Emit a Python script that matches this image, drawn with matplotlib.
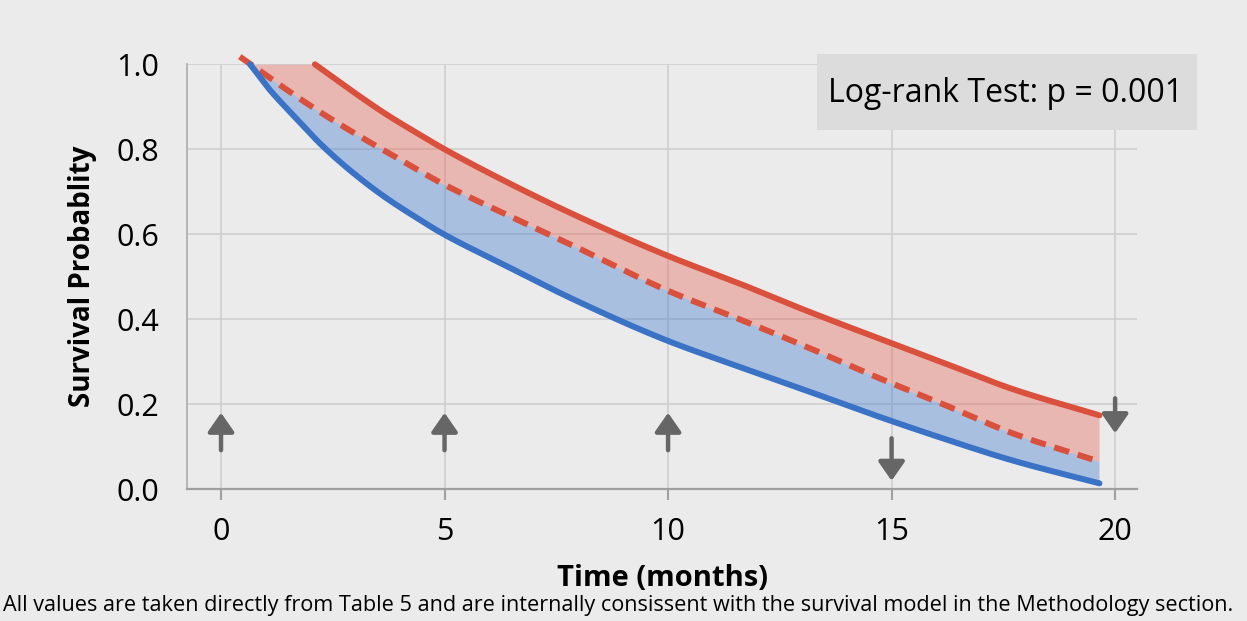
import numpy as np
import matplotlib
matplotlib.use("Agg")
import matplotlib.pyplot as plt
from matplotlib.patches import Rectangle

# ---- data ----
blue_t = [0.65, 1.09, 1.47, 1.84, 2.21, 2.96, 3.70, 4.45, 4.9, 6.39, 7.88, 10, 11.6,
          13.1, 14.74, 16.2, 17.7, 19.65]
blue_s = [1.0, 0.94, 0.896, 0.855, 0.814, 0.744, 0.685, 0.634, 0.605, 0.525, 0.447,
          0.349, 0.288, 0.232, 0.170, 0.118, 0.068, 0.014]
dash_t = [0.42, 1.32, 2.21, 3.11, 4.15, 4.9, 6.39, 7.88, 10, 11.6, 13.1, 14.8, 16.2,
          17.7, 19.62]
dash_s = [1.018, 0.951, 0.888, 0.83, 0.767, 0.722, 0.646, 0.573, 0.467, 0.40, 0.335,
          0.258, 0.198, 0.132, 0.066]
red_t = [2.1, 2.96, 3.70, 4.45, 4.9, 6.39, 7.88, 10, 11.6, 13.1, 14.74, 16.2, 17.7, 19.65]
red_s = [1.0, 0.935, 0.882, 0.834, 0.806, 0.723, 0.647, 0.549, 0.484, 0.420, 0.354,
         0.296, 0.236, 0.174]
up_arrow_t = [0, 5, 10]
up_arrow_from = [0.092, 0.092, 0.092]
up_arrow_to = [0.18, 0.18, 0.18]
down_arrow_t = [15, 20]
down_arrow_from = [0.12, 0.214]
down_arrow_to = [0.02, 0.132]
xticks = [0, 5, 10, 15, 20]
yticks = [0.0, 0.2, 0.4, 0.6, 0.8, 1.0]
stat_text = "Log-rank Test: p = 0.001"
footnote = ("All values are taken directly from Table 5 and are internally consissent "
            "with the survival model in the Methodology section.")

BG = "#ebebeb"
RED = "#d9503c"
BLUE = "#3a72c6"
FONT = "Open Sans"


def pchip(x, y, xn):
    """Monotone cubic curve through the read points (for smooth drawing only)."""
    x = np.asarray(x, float)
    y = np.asarray(y, float)
    h = np.diff(x)
    dl = np.diff(y) / h
    m = np.zeros_like(y)
    m[0], m[-1] = dl[0], dl[-1]
    for k in range(1, len(x) - 1):
        if dl[k - 1] * dl[k] <= 0:
            m[k] = 0.0
        else:
            w1 = 2 * h[k] + h[k - 1]
            w2 = h[k] + 2 * h[k - 1]
            m[k] = (w1 + w2) / (w1 / dl[k - 1] + w2 / dl[k])
    xn = np.asarray(xn, float)
    i = np.clip(np.searchsorted(x, xn) - 1, 0, len(x) - 2)
    t = (xn - x[i]) / h[i]
    h00 = 2 * t**3 - 3 * t**2 + 1
    h10 = t**3 - 2 * t**2 + t
    h01 = -2 * t**3 + 3 * t**2
    h11 = t**3 - t**2
    return h00 * y[i] + h10 * h[i] * m[i] + h01 * y[i + 1] + h11 * h[i] * m[i + 1]


plt.rcParams["font.family"] = [FONT, "DejaVu Sans"]

fig = plt.figure(figsize=(12.47, 6.21), dpi=100, facecolor=BG)
ax = fig.add_axes([0.150, 0.2121, 0.7618, 0.6844])
ax.set_facecolor(BG)
ax.set_xlim(-0.76, 20.49)
ax.set_ylim(0, 1.0)

ax.grid(True, color="#cfcfcf", linewidth=1.2)
ax.set_axisbelow(True)
for s in ["top", "right"]:
    ax.spines[s].set_visible(False)
ax.spines["left"].set_color("#b0b0b0")
ax.spines["bottom"].set_color("#a0a0a0")
ax.spines["left"].set_linewidth(1.3)
ax.spines["bottom"].set_linewidth(1.6)

ax.set_xticks(xticks)
ax.set_yticks(yticks)
ax.set_yticklabels([f"{v:.1f}" for v in yticks])
ax.tick_params(axis="x", length=8, width=1.5, color="#a0a0a0", labelsize=22, pad=12)
ax.tick_params(axis="y", length=0, labelsize=22, pad=20)

# smooth curves through the read points
bt = np.linspace(blue_t[0], blue_t[-1], 400)
dt = np.linspace(dash_t[0], dash_t[-1], 400)
rt = np.linspace(red_t[0], red_t[-1], 400)
bs, ds, rs = pchip(blue_t, blue_s, bt), pchip(dash_t, dash_s, dt), pchip(red_t, red_s, rt)

# fills
grid = np.linspace(0.62, 19.64, 500)
b = np.interp(grid, bt, bs)
d = np.interp(grid, dt, ds)
r = np.interp(grid, rt, rs, left=1.0)
ax.fill_between(grid, d, r, color="#e8574a", alpha=0.35, linewidth=0, clip_on=False)
ax.fill_between(grid, b, d, color="#3f78cc", alpha=0.38, linewidth=0, clip_on=False)

ax.plot(rt, rs, color=RED, lw=4.3, solid_capstyle="round", clip_on=False)
ax.plot(dt, ds, color=RED, lw=4.3, ls=(0, (2.6, 1.5)), clip_on=False)
ax.plot(bt, bs, color=BLUE, lw=4.3, solid_capstyle="round", clip_on=False)

for t, y0, y1 in list(zip(up_arrow_t, up_arrow_from, up_arrow_to)) + \
        list(zip(down_arrow_t, down_arrow_from, down_arrow_to)):
    ax.annotate("", xy=(t, y1), xytext=(t, y0),
                arrowprops=dict(arrowstyle="-|>,head_width=0.8,head_length=1.15",
                                color="#666666", lw=3.2, shrinkA=0, shrinkB=0),
                annotation_clip=False)

ax.set_xlabel("Time (months)", fontsize=21, fontweight="bold", labelpad=12)
ax.set_ylabel("Survival Probablity", fontsize=20, fontweight="bold", labelpad=14)

# stat box
fig.patches.append(Rectangle((817 / 1247, 1 - 130 / 621), 380 / 1247, 76 / 621,
                             transform=fig.transFigure, facecolor="#dcdcdc",
                             edgecolor="none", zorder=5))
fig.text(1006 / 1247, 1 - 93 / 621, stat_text, fontsize=23, ha="center", va="center",
         zorder=6)

fig.text(3 / 1247, 1 - 606 / 621, footnote, fontsize=15.6, ha="left", va="center")

fig.savefig("out.png", dpi=100, facecolor=BG)
